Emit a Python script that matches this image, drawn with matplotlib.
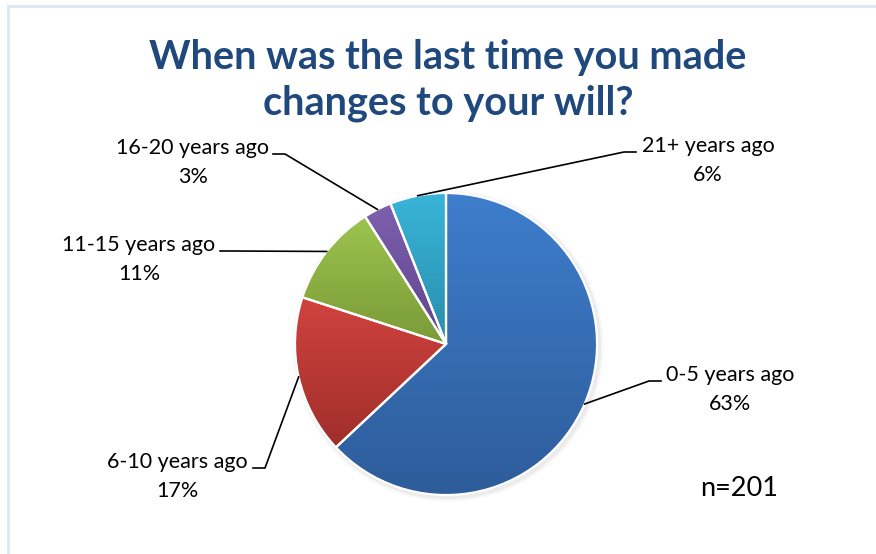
import numpy as np
import matplotlib
matplotlib.use("Agg")
import matplotlib.pyplot as plt
from matplotlib.colors import LinearSegmentedColormap
from matplotlib.patches import Rectangle, Circle

# ---------------------------------------------------------------------------
# data
# ---------------------------------------------------------------------------
categories = ["0-5 years ago", "6-10 years ago", "11-15 years ago",
              "16-20 years ago", "21+ years ago"]
shares = [63, 17, 11, 3, 6]
n_resp = 201
title_lines = ["When was the last time you made", "changes to your will?"]

# gradient colours per slice (top -> bottom)
top_cols = ["#3E7ECC", "#D1433F", "#9DC44F", "#7E5FAE", "#38B5D9"]
bot_cols = ["#2E5C9A", "#A02E2B", "#7A9A37", "#5F468C", "#2A8DAA"]

# label layout: centre of first label line (pixel coords, y up), elbow end x
label_xy = [(730, 179), (177, 92), (139, 309), (193, 406), (708, 408)]
elbow_x = [661, 253, 220, 273, 636]
label_side = ["right", "left", "left", "left", "right"]

W, H = 876, 554
CX, CY, R = 446, 210, 151

plt.rcParams["font.family"] = ["Lato", "DejaVu Sans"]
fig = plt.figure(figsize=(W / 100, H / 100), dpi=100)
ax = fig.add_axes([0, 0, 1, 1])

# light frame (clipped on right / bottom like the screenshot)
ax.add_patch(Rectangle((8, -20), W + 20, H - 6 + 20, fill=False,
                       edgecolor="#DCE6F4", lw=2))

# soft shadow
for k, a in [(5, 0.03), (3.5, 0.05), (2, 0.07)]:
    ax.add_patch(Circle((CX + 2, CY - 2), R + k, color="#808080", alpha=a, lw=0))

explode = [0.045, 0, 0, 0, 0]
wedges, _ = ax.pie(shares, startangle=90, counterclock=False, radius=R,
                   center=(CX, CY), explode=explode, frame=True,
                   wedgeprops=dict(edgecolor="white", linewidth=1.6))

for w, c0, c1 in zip(wedges, top_cols, bot_cols):
    ext = w.get_path().get_extents()
    cmap = LinearSegmentedColormap.from_list("g", [c1, c0])
    grad = np.linspace(0, 1, 256).reshape(-1, 1)
    im = ax.imshow(grad, cmap=cmap, origin="lower", aspect="auto",
                   extent=(ext.x0, ext.x1, ext.y0, ext.y1), zorder=w.get_zorder())
    im.set_clip_path(w)
    w.set_facecolor("none")
    w.set_zorder(w.get_zorder() + 0.1)

ax.set_xlim(0, W)
ax.set_ylim(0, H)
ax.set_aspect("equal")
ax.axis("off")

# leader lines + labels
for w, lab, val, (lx, ly), ex, side in zip(wedges, categories, shares,
                                           label_xy, elbow_x, label_side):
    mid = np.deg2rad((w.theta1 + w.theta2) / 2)
    cx, cy = w.center
    px, py = cx + R * np.cos(mid), cy + R * np.sin(mid)
    ey = ly - 6
    step = -12 if side == "right" else 12
    ax.plot([px, ex + step, ex], [py, ey, ey], color="black", lw=1.2, zorder=5)
    ax.text(lx, ly, lab, ha="center", va="center", fontsize=15.5, zorder=6)
    ax.text(lx, ly - 29, f"{val}%", ha="center", va="center", fontsize=15.5,
            zorder=6)

for i, line in enumerate(title_lines):
    ax.text(448, 496 - 45 * i, line, ha="center", va="center", fontsize=28.5,
            fontweight="bold", color="#1F497D")
ax.text(739, 66, f"n={n_resp}", ha="center", va="center", fontsize=19.5,
        color="black")

fig.savefig("out.png", dpi=100)
